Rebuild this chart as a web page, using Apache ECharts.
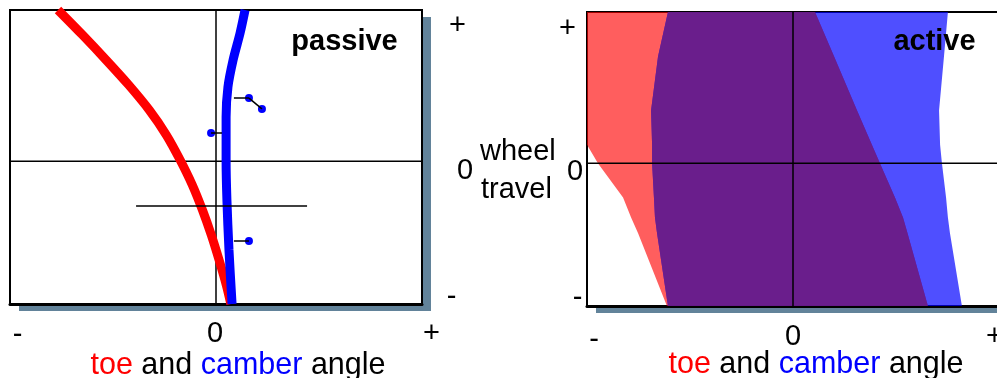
<!DOCTYPE html>
<html><head><meta charset="utf-8">
<script src="https://cdn.jsdelivr.net/npm/echarts@6/dist/echarts.min.js"></script>
<style>html,body{margin:0;padding:0;background:#fff}#c{width:997px;height:378px}</style>
</head><body><div id="c"></div>
<script>
const FONT = '"Liberation Sans", Arial, Helvetica, sans-serif';

// axis extents (arbitrary units: angle -100..100, wheel travel -100..106)
const X_MIN = -100, X_MAX = 100, Y_MIN = -100, Y_MAX = 106;
const xTickValues = [X_MIN, 0, X_MAX];
const yTickValues = [Y_MIN, 0, Y_MAX];
const xTickLabels = ['-', '0', '+'];
const yTickLabels = ['-', '0', '+'];
const axisTitleParts = ['toe', ' and ', 'camber', ' angle'];
const panelTitles = ['passive', 'active'];
const travelTitle = ['wheel', 'travel'];

// passive: [angle, wheel travel]
const toePassive = [[-76.7, 106], [-64.8, 88.5], [-53.3, 70.9], [-42.4, 53.5], [-32.4, 35.9], [-24.1, 18.4], [-17.4, 0.9],
  [-11.5, -16.6], [-6.6, -34.1], [-2.3, -51.6], [1.5, -69.2], [5.0, -86.7], [7.2, -100]];
const camberPassive = [[14.1, 106], [11.7, 89.9], [8.3, 71], [5.8, 52.1], [4.9, 31.1], [4.9, 0.2], [5.3, -27.1], [6.3, -62.2], [7.8, -100]];
const camberMarks = [[16, 44.3], [22.3, 36.7], [-2.4, 19.8], [16, -55.9]];
const markLinks = [
  [[8.7, 44.3], [16, 44.3]],
  [[16, 44.3], [22.3, 36.7]],
  [[-2.4, 19.8], [2.9, 19.8]],
  [[8.7, -55.9], [16, -55.9]]
];
const refLine = [[-38.8, -31.3], [44.2, -31.3]];

// active: bands read at common wheel-travel levels
const bandTravel = [106, 75, 37, 13, 0, -24, -38, -49, -100];
const toeActiveLeft = [-100, -100, -100, -100, -94.7, -82.5, -78.6, -75.2, -61.2];
const toeActiveRight = [10.7, 19.9, 31.1, 38.3, 42.2, 49.5, 53.4, 55.6, 65.5];
const camberActiveLeft = [-60.7, -65.5, -68.9, -68.4, -68.4, -67.5, -67.0, -66.0, -60.7];
const camberActiveRight = [75.2, 73.3, 70.9, 71.4, 72.3, 74.3, 75.2, 76.2, 82.0];

const overlapLeft = bandTravel.map((_, i) => Math.max(toeActiveLeft[i], camberActiveLeft[i]));
const overlapRight = bandTravel.map((_, i) => Math.min(toeActiveRight[i], camberActiveRight[i]));

const KEYS = ['m', 'z', 'p'];
function richStyles(pads) {
  const base = {fontFamily: FONT, fontSize: 29, lineHeight: 29, color: '#000'};
  const r = {};
  KEYS.forEach((k, i) => { r[k] = Object.assign({}, base, {padding: pads[i]}); });
  return r;
}
function fmt(values, labels) {
  return v => {
    const i = values.indexOf(v);
    return i < 0 ? '' : '{' + KEYS[i] + '|' + labels[i] + '}';
  };
}
const nameText = '{r|' + axisTitleParts[0] + '}' + axisTitleParts[1] + '{b|' + axisTitleParts[2] + '}' + axisTitleParts[3];
function nameStyle(padL) {
  const fs = 30.5;
  return {
    fontFamily: FONT, fontSize: fs, lineHeight: 30, color: '#000', padding: [0, 0, 0, padL],
    rich: {r: {fontFamily: FONT, fontSize: fs, lineHeight: 30, color: '#ff0000'},
           b: {fontFamily: FONT, fontSize: fs, lineHeight: 30, color: '#0000ff'}}
  };
}

function xAxisFor(gi, pads, margin, gap, padL) {
  return {
    gridIndex: gi, type: 'value', min: X_MIN, max: X_MAX, interval: 100,
    axisLine: {show: true, onZero: false, lineStyle: {color: '#000', width: 3}},
    axisTick: {show: false}, splitLine: {show: false},
    axisLabel: {margin: margin, formatter: fmt(xTickValues, xTickLabels), rich: richStyles(pads)},
    name: nameText, nameLocation: 'middle', nameGap: gap, nameMoveOverlap: false, nameTextStyle: nameStyle(padL)
  };
}
function yAxisFor(gi, pos, pads, margin) {
  return {
    gridIndex: gi, type: 'value', position: pos, min: Y_MIN, max: Y_MAX, interval: 100,
    axisLine: {show: pos === 'left', onZero: false, lineStyle: {color: '#000', width: 2}},
    axisTick: {show: false}, splitLine: {show: false},
    axisLabel: {margin: margin, align: 'center', formatter: fmt(yTickValues, yTickLabels), rich: richStyles(pads)}
  };
}

function lineSeries(data, gi, color, width, extra) {
  return Object.assign({
    type: 'line', xAxisIndex: gi, yAxisIndex: gi, data: data, showSymbol: false, symbol: 'none',
    lineStyle: {color: color, width: width, cap: 'butt'}, clip: true, silent: true
  }, extra || {});
}
function band(left, right, color) {
  return {
    type: 'custom', xAxisIndex: 1, yAxisIndex: 1, data: [[0, 0]], silent: true, clip: true,
    renderItem: (params, api) => {
      const pts = [];
      for (let i = 0; i < bandTravel.length; i++) pts.push(api.coord([left[i], bandTravel[i]]));
      for (let i = bandTravel.length - 1; i >= 0; i--) pts.push(api.coord([right[i], bandTravel[i]]));
      return {type: 'polygon', shape: {points: pts}, style: {fill: color}};
    }
  };
}

const series = [
  // passive panel
  lineSeries([[0, Y_MIN], [0, Y_MAX]], 0, '#000', 1.5),
  lineSeries([[X_MIN, 0], [X_MAX, 0]], 0, '#000', 1.5),
  lineSeries(toePassive, 0, '#ff0000', 9, {smooth: 0.3}),
  lineSeries(camberPassive, 0, '#0000ff', 9, {smooth: 0.3}),
  lineSeries(refLine, 0, '#000', 1.5)
];
markLinks.forEach(seg => series.push(lineSeries(seg, 0, '#000', 1.5)));
series.push({type: 'scatter', xAxisIndex: 0, yAxisIndex: 0, data: camberMarks, symbol: 'circle', symbolSize: 8,
  itemStyle: {color: '#0000ff', opacity: 1}, silent: true});
// active panel
series.push(lineSeries([[0, Y_MIN], [0, Y_MAX]], 1, '#000', 1.5));
series.push(lineSeries([[X_MIN, 0], [X_MAX, 0]], 1, '#000', 1.5));
series.push(band(toeActiveLeft, toeActiveRight, 'rgba(255,0,0,0.63)'));
series.push(band(camberActiveLeft, camberActiveRight, 'rgba(0,0,255,0.69)'));
series.push(band(overlapLeft, overlapRight, 'rgba(110,30,128,0.85)'));

const PANEL0 = {left: 10, top: 10, width: 412, height: 294};
const PANEL1 = {left: 587, top: 12, width: 412, height: 294};
const shadowGrid = {show: true, backgroundColor: '#fff', borderWidth: 0, borderColor: 'transparent',
  shadowColor: '#62839a', shadowBlur: 0, shadowOffsetX: 9, shadowOffsetY: 7, outerBoundsMode: 'none', containLabel: false};
const borderGrid = {show: true, backgroundColor: 'transparent', borderColor: '#000', borderWidth: 2,
  outerBoundsMode: 'none', containLabel: false};

const option = {
  animation: false,
  backgroundColor: '#fff',
  grid: [
    Object.assign({}, PANEL0, shadowGrid),
    Object.assign({}, PANEL1, shadowGrid),
    Object.assign({}, PANEL0, borderGrid),
    Object.assign({}, PANEL1, borderGrid)
  ],
  xAxis: [
    xAxisFor(0, [[2, 0, 0, 15], [0, 2, 0, 0], [0, 0, 0, 19]], 15.5, 46.4, 44),
    xAxisFor(1, [[6, 0, 0, 14], [0, 0, 0, 0], [0, 9, 0, 0]], 16.5, 43.4, 46)
  ],
  yAxis: [
    yAxisFor(0, 'right', [[0, 27, 14, 0], [20, 0, 0, 0], [32, 15, 0, 0]], 43),
    yAxisFor(1, 'left', [[0, 0, 16, 5], [17, 0, 0, 0], [34, 15, 0, 0]], 12)
  ],
  graphic: [
    {type: 'text', x: 344.5, y: 42, silent: true, z: 10, style: {text: panelTitles[0], font: 'bold 29px ' + FONT, fill: '#000', align: 'center', verticalAlign: 'middle'}},
    {type: 'text', x: 934.5, y: 42, silent: true, z: 10, style: {text: panelTitles[1], font: 'bold 29px ' + FONT, fill: '#000', align: 'center', verticalAlign: 'middle'}},
    {type: 'text', x: 480, y: 152, silent: true, style: {text: travelTitle[0], font: '29px ' + FONT, fill: '#000', align: 'left', verticalAlign: 'middle'}},
    {type: 'text', x: 481, y: 190, silent: true, style: {text: travelTitle[1], font: '29px ' + FONT, fill: '#000', align: 'left', verticalAlign: 'middle'}}
  ],
  series: series
};
const chart = echarts.init(document.getElementById('c'));
chart.setOption(option);
</script>
</body></html>
